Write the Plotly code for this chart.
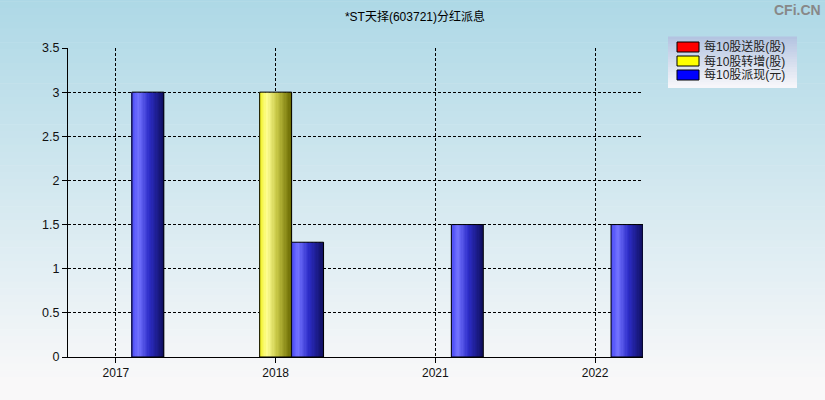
import plotly.graph_objects as go

# ---- data ----
years = ["2017", "2018", "2021", "2022"]
song_gu = [0, 0, 0, 0]          # 每10股送股(股)
zhuan_zeng = [0, 3, 0, 0]       # 每10股转增(股)
pai_xian = [3, 1.3, 1.5, 1.5]   # 每10股派现(元)

series_names = ["每10股送股(股)", "每10股转增(股)", "每10股派现(元)"]
series_values = [song_gu, zhuan_zeng, pai_xian]
series_colors = ["#ff0000", "#ffff00", "#0000ff"]
y_ticks = [0, 0.5, 1, 1.5, 2, 2.5, 3, 3.5]

W, H = 825, 400
ML, MR, MT, MB = 68, 182, 48, 43
PW, PH = W - ML - MR, H - MT - MB

grad = [
    [(0, (200, 0, 0)), (0.25, (255, 120, 120)), (0.55, (200, 30, 30)), (1, (100, 0, 0))],
    [(0, (240, 240, 30)), (0.25, (255, 255, 150)), (0.55, (200, 200, 70)), (1, (105, 105, 0))],
    [(0, (70, 70, 245)), (0.22, (115, 115, 255)), (0.55, (45, 45, 200)), (1, (15, 15, 95))],
]


def interp(stops, t):
    for (t0, c0), (t1, c1) in zip(stops[:-1], stops[1:]):
        if t0 <= t <= t1:
            f = (t - t0) / (t1 - t0) if t1 > t0 else 0
            c = [round(a + (b - a) * f) for a, b in zip(c0, c1)]
            return "rgb(%d,%d,%d)" % tuple(c)
    return "rgb(%d,%d,%d)" % stops[-1][1]


fig = go.Figure()
bar_w = 0.2
offsets = [-0.3, -0.1, 0.1]
N = 24

for k in range(3):
    vals = [v if v else None for v in series_values[k]]
    for i in range(N):
        fig.add_trace(go.Bar(
            x=years, y=vals, offset=offsets[k] + i * bar_w / N, width=bar_w / N * 1.05,
            marker=dict(color=interp(grad[k], (i + 0.5) / N), line=dict(width=0)),
            showlegend=False, hoverinfo="skip",
        ))
    fig.add_trace(go.Bar(
        x=years, y=vals, offset=offsets[k], width=bar_w,
        marker=dict(color="rgba(0,0,0,0)", line=dict(color="black", width=1)),
        showlegend=False, name=series_names[k],
    ))


def px_x(p):
    return (p - ML) / PW


def px_y(p):
    return (H - MB - p) / PH


shapes = []
annotations = []
# background gradient
nstrip = 60
x0p, x1p = px_x(-5), px_x(W + 5)
y_top, y_bot = px_y(-5), px_y(H + 5)
top_c, bot_c = (173, 216, 230), (249, 248, 249)
for i in range(nstrip):
    f = i / (nstrip - 1)
    c = tuple(round(a + (b - a) * min(1, f * 1.05)) for a, b in zip(top_c, bot_c))
    ya = y_top - (y_top - y_bot) * i / nstrip
    yb = y_top - (y_top - y_bot) * (i + 1) / nstrip
    shapes.append(dict(type="rect", xref="paper", yref="paper", x0=x0p, x1=x1p,
                       y0=yb, y1=ya + 0.002, fillcolor="rgb(%d,%d,%d)" % c,
                       line=dict(width=0), layer="below"))
# legend box gradient
lt, lb = (180, 196, 225), (246, 246, 250)
nl = 20
for i in range(nl):
    f = i / (nl - 1)
    c = tuple(round(a + (b - a) * f) for a, b in zip(lt, lb))
    ya = 37 + (88 - 37) * i / nl
    yb = 37 + (88 - 37) * (i + 1) / nl
    shapes.append(dict(type="rect", xref="paper", yref="paper", x0=px_x(668), x1=px_x(797),
                       y0=px_y(yb), y1=px_y(ya) + 0.002, fillcolor="rgb(%d,%d,%d)" % c,
                       line=dict(width=0), layer="above"))
# legend entries
for k in range(3):
    cy = 47 + 14 * k
    shapes.append(dict(type="rect", xref="paper", yref="paper", x0=px_x(677), x1=px_x(699),
                       y0=px_y(cy + 5), y1=px_y(cy - 5), fillcolor=series_colors[k],
                       line=dict(color="black", width=1), layer="above"))
    annotations.append(dict(text=series_names[k], xref="paper", yref="paper",
                            x=px_x(702), y=px_y(cy), xanchor="left", yanchor="middle",
                            showarrow=False,
                            font=dict(size=12, color="#222",
                                      family="Liberation Sans, Noto Sans CJK SC")))

annotations.append(dict(text="<b>CFi.CN</b>", xref="paper", yref="paper",
                        x=px_x(823), y=px_y(10), xanchor="right", yanchor="middle",
                        showarrow=False, font=dict(size=14, color="#888888", family="Liberation Sans")))

fig.update_layout(
    width=W, height=H,
    margin=dict(l=ML, r=MR, t=MT, b=MB),
    paper_bgcolor="rgba(0,0,0,0)", plot_bgcolor="rgba(0,0,0,0)",
    barmode="overlay", showlegend=False,
    shapes=shapes, annotations=annotations,
    font=dict(family="Liberation Sans, Noto Sans CJK SC, sans-serif", size=12, color="black"),
    title=dict(text="*ST天择(603721)分红派息", x=0.503, xanchor="center",
               y=1 - 17 / H, yanchor="middle",
               font=dict(size=12, color="black", family="Liberation Sans, Noto Sans CJK SC")),
    xaxis=dict(type="category", range=[-0.3, 3.3], showline=True, linecolor="black", linewidth=1,
               showgrid=True, gridcolor="black", griddash="3px,2px", gridwidth=1,
               ticks="outside", ticklen=5, tickcolor="black", fixedrange=True,
               tickfont=dict(size=12, color="#111")),
    yaxis=dict(range=[0, 3.5], tickvals=y_ticks, showline=True, linecolor="black", linewidth=1,
               showgrid=True, gridcolor="black", griddash="3px,2px", gridwidth=1,
               ticks="outside", ticklen=5, tickcolor="black", zeroline=False,
               tickfont=dict(size=12.5, color="#111")),
)

fig.write_html("out.html", config={"displayModeBar": False},
               post_script="document.body.style.margin='0';document.body.style.overflow='hidden';")
